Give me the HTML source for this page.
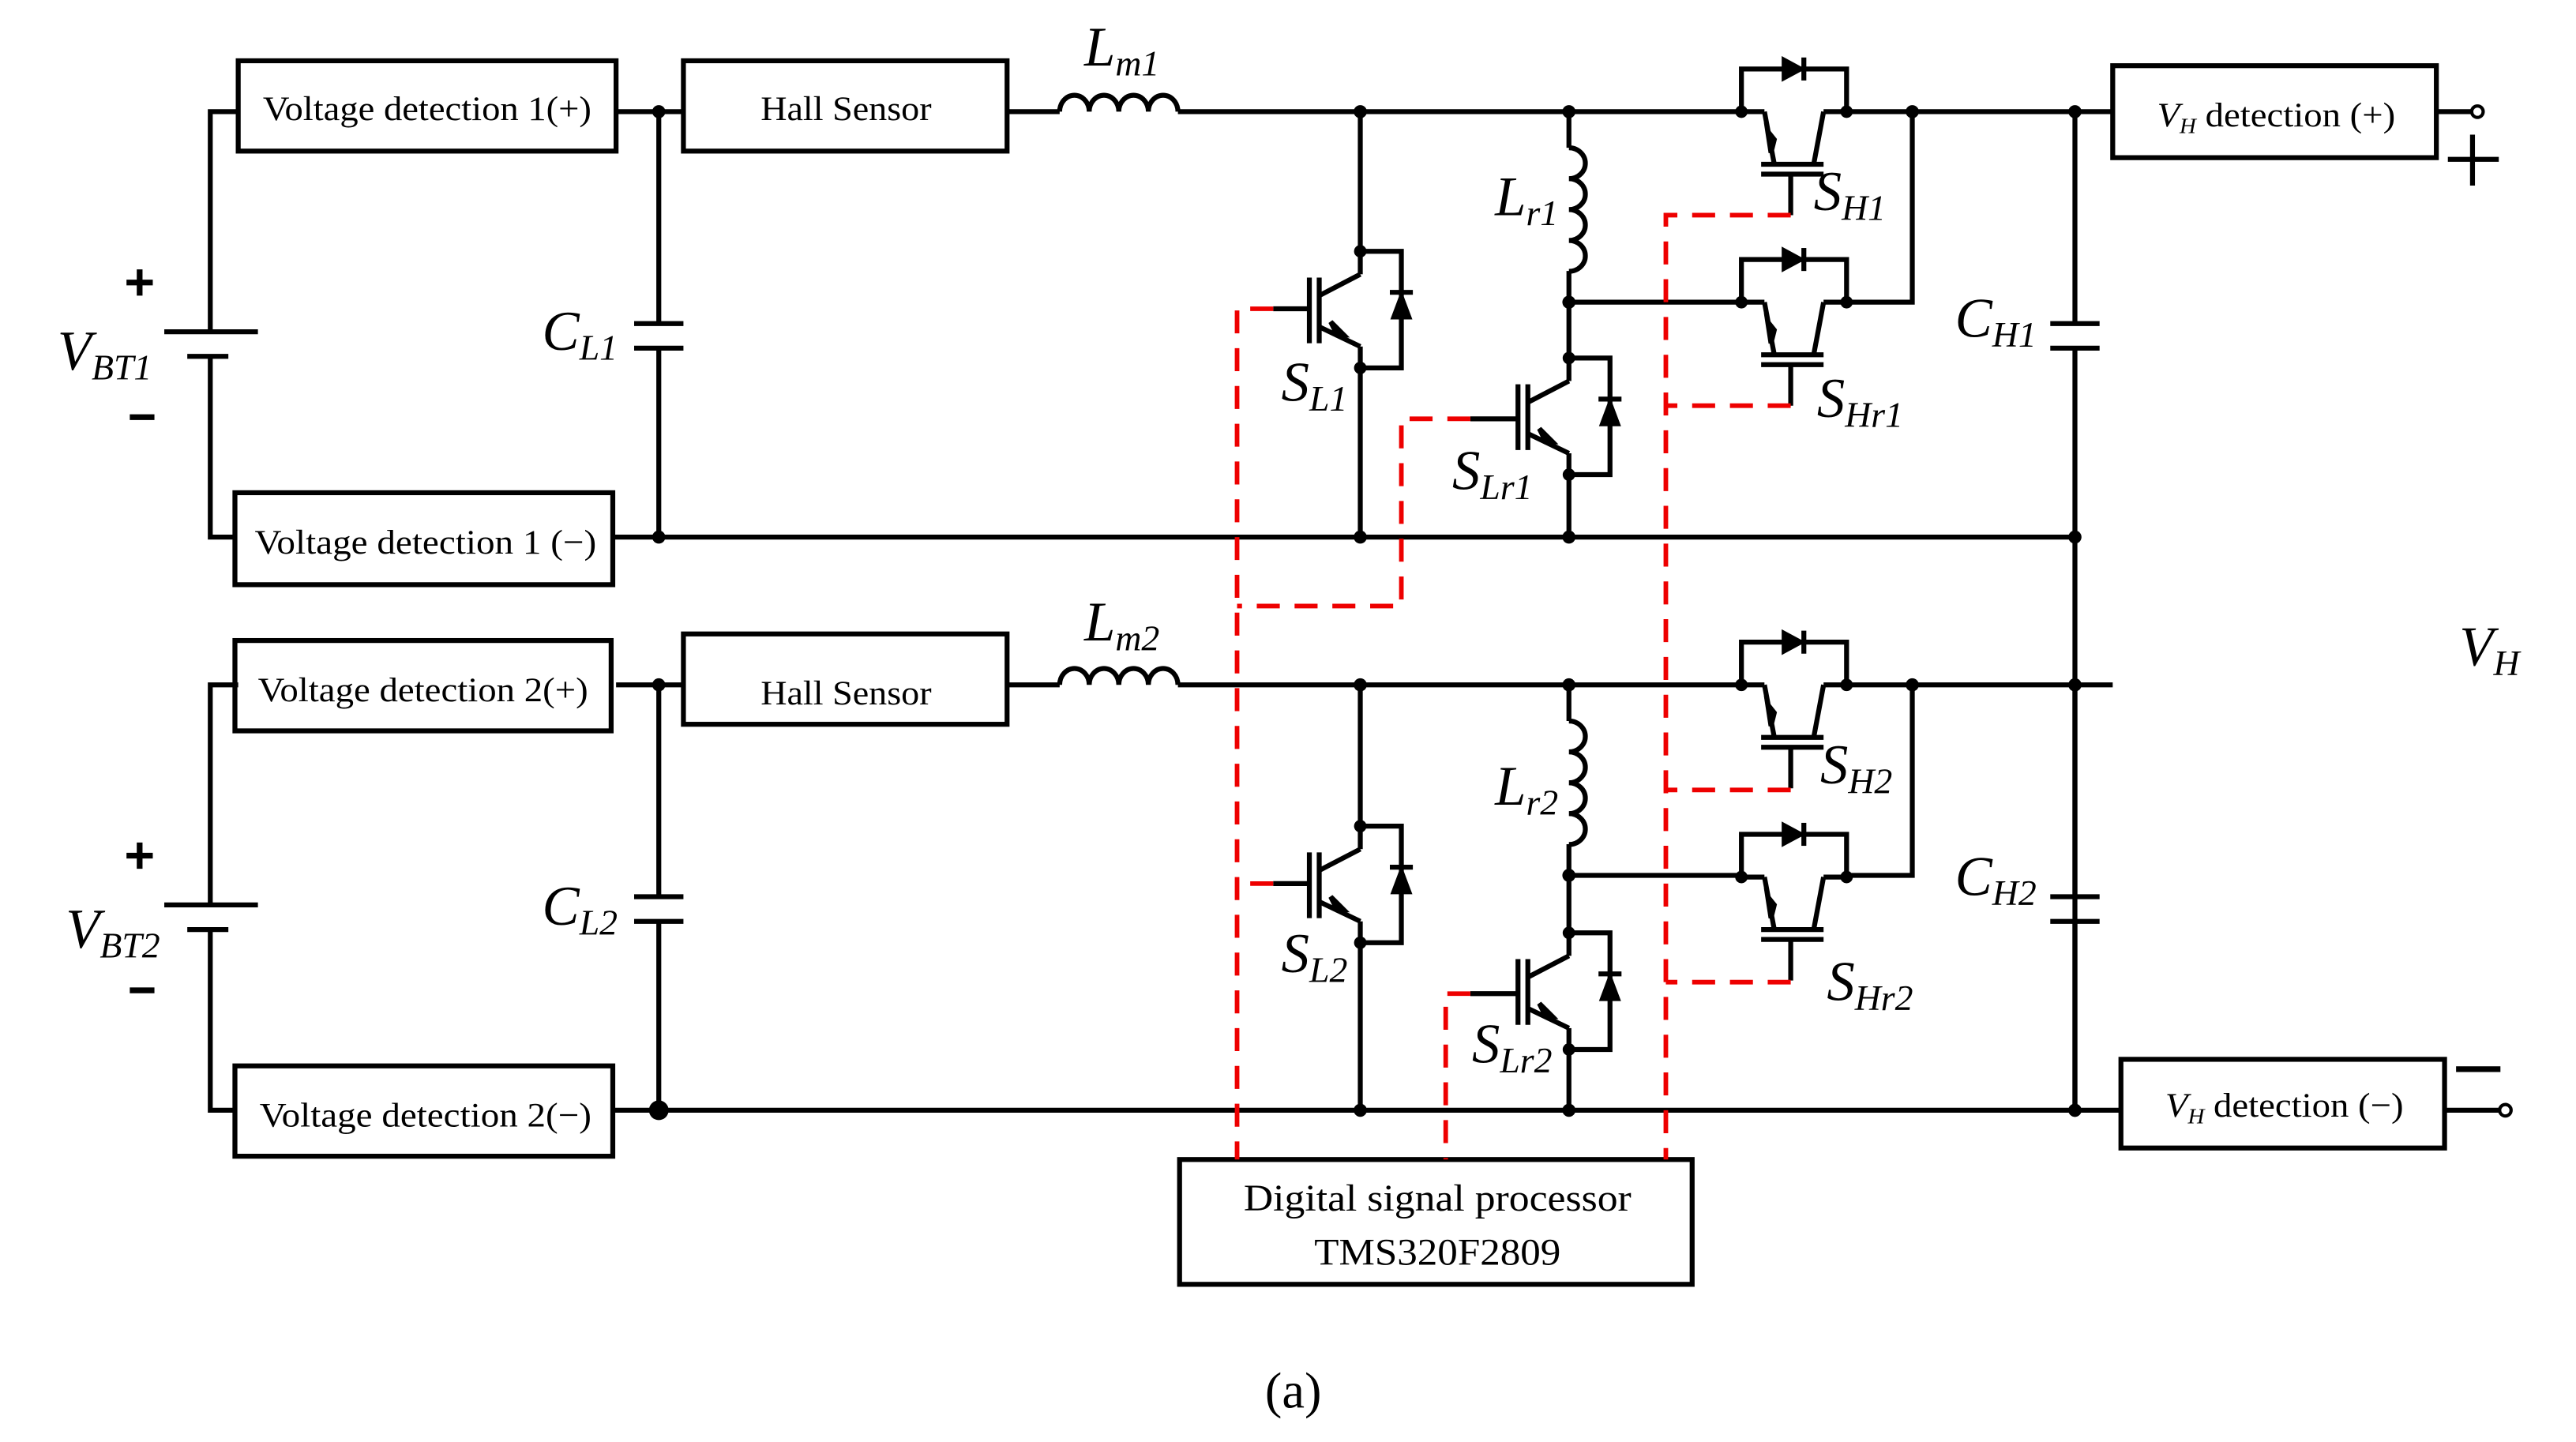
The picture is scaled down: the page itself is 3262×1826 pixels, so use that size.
<!DOCTYPE html>
<html><head><meta charset="utf-8"><style>
html,body{margin:0;padding:0;background:#fff;}
svg{display:block;}
text{font-family:"Liberation Serif",serif;fill:#000;}
.it{font-style:italic;}
</style></head><body>
<svg width="3262" height="1826" viewBox="0 0 1568 878" preserveAspectRatio="none" xmlns="http://www.w3.org/2000/svg">
<defs>
<g id="vsw" stroke="#000" stroke-width="3" fill="none">
 <line x1="0" y1="0" x2="0" y2="14"/>
 <line x1="0" y1="14" x2="-25" y2="27"/>
 <line x1="-25" y1="46" x2="0" y2="58"/>
 <line x1="0" y1="58" x2="0" y2="71"/>
 <line x1="-25" y1="16" x2="-25" y2="56"/>
 <line x1="-31" y1="16" x2="-31" y2="56"/>
 <polyline points="0,0 25,0 25,71 0,71"/>
 <polygon points="-10,51 -18,43 -14,51" fill="#000"/>
 <polygon points="25,25 19,41 31,41" fill="#000" stroke-width="1"/>
 <line x1="18" y1="25" x2="32" y2="25"/>
 <circle cx="0" cy="0" r="3.8" fill="#000" stroke="none"/>
 <circle cx="0" cy="71" r="3.8" fill="#000" stroke="none"/>
</g>
<g id="hsw" stroke="#000" stroke-width="3" fill="none">
 <polyline points="0,0 0,-26 64,-26 64,0"/>
 <polygon points="25,-33 25,-19 38,-26" fill="#000" stroke-width="1"/>
 <line x1="38" y1="-33" x2="38" y2="-19"/>
 <line x1="0" y1="0" x2="14" y2="0"/>
 <line x1="14" y1="0" x2="20" y2="32"/>
 <line x1="64" y1="0" x2="50" y2="0"/>
 <line x1="50" y1="0" x2="44" y2="32"/>
 <line x1="12" y1="32" x2="50" y2="32"/>
 <line x1="12" y1="38" x2="50" y2="38"/>
 <line x1="30" y1="38" x2="30" y2="63"/>
 <polygon points="16,12 18,25 20,17" fill="#000"/>
 <circle cx="0" cy="0" r="3.8" fill="#000" stroke="none"/>
 <circle cx="64" cy="0" r="3.8" fill="#000" stroke="none"/>
</g>
<g id="half" stroke="#000" stroke-width="3" fill="none">
 <polyline points="145,68 128,68 128,202"/>
 <line x1="100" y1="202" x2="157" y2="202"/>
 <line x1="114" y1="217" x2="139" y2="217"/>
 <polyline points="128,217 128,327 143,327"/>
 <line x1="375" y1="68" x2="416" y2="68"/>
 <line x1="613" y1="68" x2="645" y2="68"/>
 <path d="M645,68 a9,10 0 0 1 18,0 a9,10 0 0 1 18,0 a9,10 0 0 1 18,0 a9,10 0 0 1 18,0"/>
 <line x1="717" y1="68" x2="1060" y2="68"/>
 <line x1="1124" y1="68" x2="1286" y2="68"/>
 <line x1="401" y1="68" x2="401" y2="197"/>
 <line x1="386" y1="197" x2="416" y2="197"/>
 <line x1="386" y1="212" x2="416" y2="212"/>
 <line x1="401" y1="212" x2="401" y2="327"/>
 <line x1="373" y1="327" x2="1263" y2="327"/>
 <line x1="828" y1="68" x2="828" y2="153"/>
 <line x1="828" y1="224" x2="828" y2="327"/>
 <line x1="955" y1="68" x2="955" y2="90"/>
 <path d="M955,90 a10,9.4 0 0 1 0,18.8 a10,9.4 0 0 1 0,18.8 a10,9.4 0 0 1 0,18.8 a10,9.4 0 0 1 0,18.8"/>
 <line x1="955" y1="165" x2="955" y2="218"/>
 <line x1="955" y1="184" x2="1060" y2="184"/>
 <line x1="955" y1="289" x2="955" y2="327"/>
 <polyline points="1124,184 1164,184 1164,68"/>
 <line x1="1263" y1="68" x2="1263" y2="197"/>
 <line x1="1248" y1="197" x2="1278" y2="197"/>
 <line x1="1248" y1="212" x2="1278" y2="212"/>
 <line x1="1263" y1="212" x2="1263" y2="327"/>
 <rect x="416" y="37" width="197" height="55"/>
 <line x1="77" y1="172" x2="93" y2="172" stroke-width="3.5"/>
 <line x1="85" y1="164" x2="85" y2="180" stroke-width="3.5"/>
 <line x1="79" y1="254" x2="94" y2="254" stroke-width="3.5"/>
</g>
<g id="dots" fill="#000">
 <circle cx="401" cy="68" r="4"/><circle cx="401" cy="327" r="4"/>
 <circle cx="828" cy="68" r="4"/><circle cx="828" cy="327" r="4"/>
 <circle cx="955" cy="68" r="4"/><circle cx="955" cy="184" r="4"/><circle cx="955" cy="327" r="4"/>
 <circle cx="1164" cy="68" r="4"/><circle cx="1263" cy="68" r="4"/><circle cx="1263" cy="327" r="4"/>
</g>
</defs>

<use href="#half"/><use href="#dots"/>
<use href="#half" transform="translate(0,349)"/><use href="#dots" transform="translate(0,349)"/>

<circle cx="401" cy="676" r="6" fill="#000"/>

<use href="#vsw" x="828" y="153"/>
<use href="#vsw" x="955" y="218"/>
<use href="#vsw" x="828" y="503"/>
<use href="#vsw" x="955" y="568"/>
<use href="#hsw" x="1060" y="68"/>
<use href="#hsw" x="1060" y="184"/>
<use href="#hsw" x="1060" y="417"/>
<use href="#hsw" x="1060" y="534"/>

<g stroke="#000" stroke-width="3" fill="none">
 <rect x="145" y="37" width="230" height="55"/>
 <rect x="143" y="300" width="230" height="56"/>
 <rect x="143" y="390" width="229" height="55"/>
 <rect x="143" y="649" width="230" height="55"/>
 <rect x="1286" y="40" width="197" height="56"/>
 <rect x="1291" y="645" width="197" height="54"/>
 <rect x="718" y="706" width="312" height="76"/>
 <line x1="1263" y1="327" x2="1263" y2="676"/>
 <line x1="1263" y1="676" x2="1291" y2="676"/>
 <line x1="1483" y1="68" x2="1505" y2="68"/>
 <line x1="1488" y1="676" x2="1521" y2="676"/>
 <line x1="1505" y1="82" x2="1505" y2="113"/>
 <line x1="1490" y1="97" x2="1521" y2="97"/>
 <line x1="1495" y1="651" x2="1522" y2="651" stroke-width="3.5"/>
 <line x1="798" y1="188" x2="775" y2="188"/>
 <line x1="924" y1="255" x2="895" y2="255"/>
 <line x1="798" y1="538" x2="775" y2="538"/>
 <line x1="924" y1="605" x2="895" y2="605"/>
</g>
<circle cx="1508" cy="68" r="3.5" fill="#fff" stroke="#000" stroke-width="2"/>
<circle cx="1525" cy="676" r="3.5" fill="#fff" stroke="#000" stroke-width="2"/>
<g fill="#000"><circle cx="1263" cy="417" r="4"/><circle cx="1263" cy="676" r="4"/></g>

<g stroke="#e00" stroke-width="2.8" fill="none" stroke-dasharray="14,9">
 <polyline points="775,188 753,188 753,706"/>
 <polyline points="895,255 853,255 853,369 753,369"/>
 <polyline points="1090,131 1014,131 1014,706"/>
 <polyline points="1090,247 1014,247"/>
 <polyline points="1090,481 1014,481"/>
 <polyline points="1090,598 1014,598"/>
 <polyline points="775,538 753,538"/>
 <polyline points="895,605 880,605 880,706"/>
</g>

<g font-size="21">
 <text x="160" y="73" textLength="200" lengthAdjust="spacingAndGlyphs">Voltage detection 1(+)</text>
 <text x="155" y="337" textLength="208" lengthAdjust="spacingAndGlyphs">Voltage detection 1 (−)</text>
 <text x="157" y="427" textLength="201" lengthAdjust="spacingAndGlyphs">Voltage detection 2(+)</text>
 <text x="158" y="686" textLength="202" lengthAdjust="spacingAndGlyphs">Voltage detection 2(−)</text>
 <text x="463" y="73" textLength="104" lengthAdjust="spacingAndGlyphs">Hall Sensor</text>
 <text x="463" y="429" textLength="104" lengthAdjust="spacingAndGlyphs">Hall Sensor</text>
 <text x="1313" y="77" textLength="145" lengthAdjust="spacingAndGlyphs"><tspan class="it">V</tspan><tspan class="it" font-size="13" dy="4">H</tspan><tspan dy="-4"> detection (+)</tspan></text>
 <text x="1318" y="680" textLength="145" lengthAdjust="spacingAndGlyphs"><tspan class="it">V</tspan><tspan class="it" font-size="13" dy="4">H</tspan><tspan dy="-4"> detection (−)</tspan></text>
 <text x="757" y="737" font-size="23" textLength="236" lengthAdjust="spacingAndGlyphs">Digital signal processor</text>
 <text x="800" y="770" font-size="23" textLength="150" lengthAdjust="spacingAndGlyphs">TMS320F2809</text>
 <text x="770" y="857" font-size="31">(a)</text>
</g>
<g class="it" font-size="34">
 <text x="35" y="225">V<tspan font-size="22" dy="6">BT1</tspan></text>
 <text x="40" y="577">V<tspan font-size="22" dy="6">BT2</tspan></text>
 <text x="330" y="213">C<tspan font-size="22" dy="6">L1</tspan></text>
 <text x="330" y="563">C<tspan font-size="22" dy="6">L2</tspan></text>
 <text x="660" y="40">L<tspan font-size="22" dy="6">m1</tspan></text>
 <text x="660" y="390">L<tspan font-size="22" dy="6">m2</tspan></text>
 <text x="780" y="244">S<tspan font-size="22" dy="6">L1</tspan></text>
 <text x="780" y="592">S<tspan font-size="22" dy="6">L2</tspan></text>
 <text x="910" y="131">L<tspan font-size="22" dy="6">r1</tspan></text>
 <text x="910" y="490">L<tspan font-size="22" dy="6">r2</tspan></text>
 <text x="884" y="298">S<tspan font-size="22" dy="6">Lr1</tspan></text>
 <text x="896" y="647">S<tspan font-size="22" dy="6">Lr2</tspan></text>
 <text x="1104" y="128">S<tspan font-size="22" dy="6">H1</tspan></text>
 <text x="1106" y="254">S<tspan font-size="22" dy="6">Hr1</tspan></text>
 <text x="1108" y="477">S<tspan font-size="22" dy="6">H2</tspan></text>
 <text x="1112" y="609">S<tspan font-size="22" dy="6">Hr2</tspan></text>
 <text x="1190" y="205">C<tspan font-size="22" dy="6">H1</tspan></text>
 <text x="1190" y="545">C<tspan font-size="22" dy="6">H2</tspan></text>
 <text x="1497" y="405">V<tspan font-size="22" dy="6">H</tspan></text>
</g>
</svg>
</body></html>
